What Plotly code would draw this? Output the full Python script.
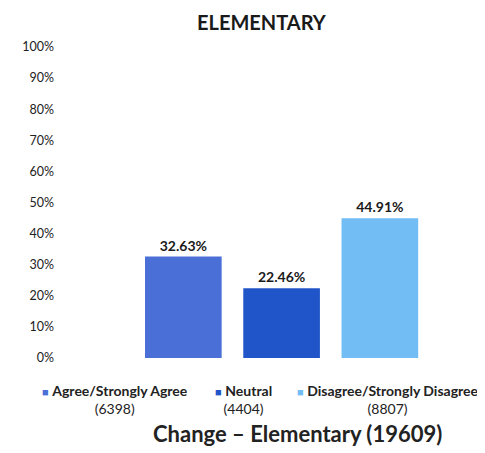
import plotly.graph_objects as go

categories = ["Agree/Strongly Agree", "Neutral", "Disagree/Strongly Disagree"]
counts = [6398, 4404, 8807]
values = [32.63, 22.46, 44.91]
colors = ["#4A6FD6", "#1F55C9", "#71BDF4"]
tick_vals = [0, 10, 20, 30, 40, 50, 60, 70, 80, 90, 100]
tick_text = [f"{v}%" for v in tick_vals]
title = "ELEMENTARY"
x_title = "Change \u2013 Elementary (19609)"

FONT = "Lato"
OFF = 8  # page offset
L, R, T, B = 55 - OFF, 45 + OFF, 47 - OFF, 95 + OFF
W, H = 485, 453
plot_w = W - L - R
plot_h = H - T - B


def px_x(px):
    return (px - OFF - L) / plot_w


def px_y(py):
    return (H - B - (py - OFF)) / plot_h


fig = go.Figure()
fig.add_trace(go.Bar(
    x=list(range(len(categories))),
    y=values,
    marker=dict(color=colors, line=dict(width=0)),
    width=0.78,
    text=[f"{v:.2f}%" for v in values],
    textposition="outside",
    textfont=dict(family=FONT, size=14, color="#1a1a1a", weight="bold"),
    cliponaxis=False,
    showlegend=False,
))

leg_x = [115, 243, 388]
for c, n, col, px in zip(categories, counts, colors, leg_x):
    fig.add_annotation(
        xref="paper", yref="paper", x=px_x(px), y=px_y(381), showarrow=False,
        text=f"<span style='color:{col};font-size:11px'>\u25A0</span> <b>{c}</b><br>({n})",
        align="center", xanchor="center", yanchor="top", borderpad=0,
        font=dict(family=FONT, size=14, color="#222222"),
    )

fig.add_annotation(
    xref="paper", yref="paper", x=px_x(297), y=px_y(433),
    showarrow=False, xanchor="center", yanchor="middle",
    text=f"<b>{x_title}</b>",
    font=dict(family=FONT, size=22, color="#222222"),
)

fig.add_annotation(
    xref="paper", yref="paper", x=px_x(262), y=px_y(22), borderpad=0,
    showarrow=False, xanchor="center", yanchor="middle",
    text=f"<b>{title}</b>",
    font=dict(family=FONT, size=20, color="#1a1a1a"),
)

fig.update_layout(
    width=W, height=H,
    margin=dict(l=L, r=R, t=T, b=B),
    paper_bgcolor="white", plot_bgcolor="white",
    xaxis=dict(range=[-1.306, 2.612], showticklabels=False, showgrid=False,
               zeroline=False, showline=False, ticks=""),
    yaxis=dict(range=[0, 100], tickvals=tick_vals, ticktext=tick_text, showgrid=False,
               zeroline=False, showline=False,
               tickfont=dict(family=FONT, size=12.5, color="#222222")),
)

fig.write_html("out.html")
